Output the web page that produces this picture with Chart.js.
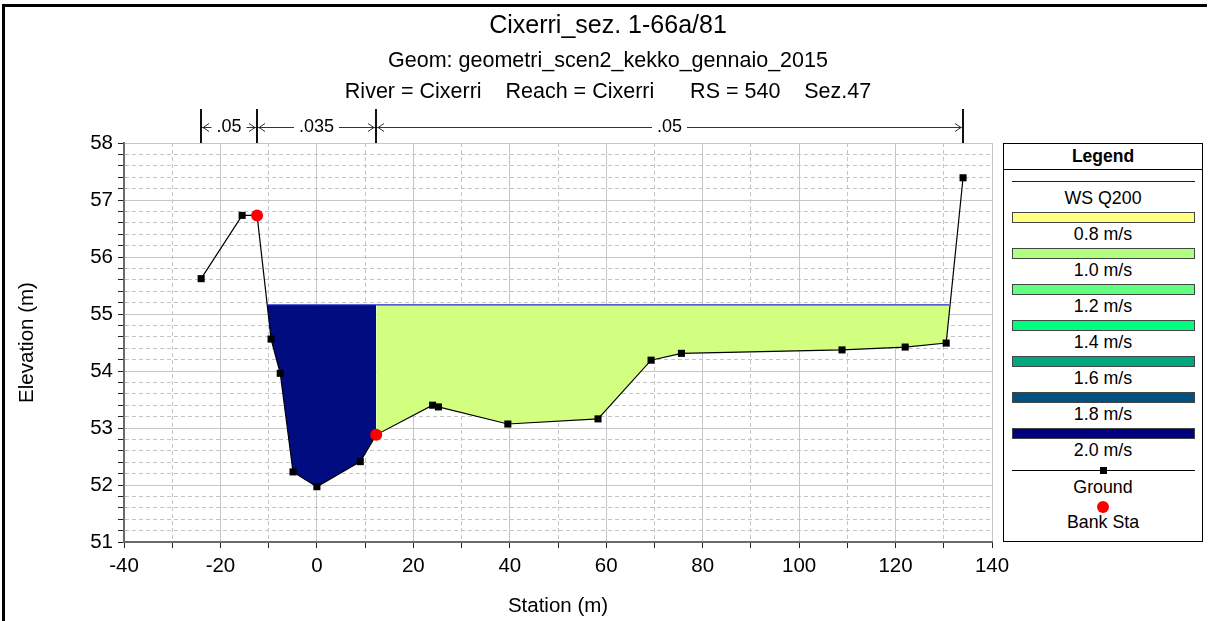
<!DOCTYPE html>
<html lang="it">
<head>
<meta charset="UTF-8">
<title>Cixerri_sez. 1-66a/81</title>
<style>
    body {
        margin: 0;
        background: #fff;
        font-family: "Liberation Sans", Arial, sans-serif;
    }
    #wrap {
        position: relative;
        width: 1209px;
        height: 621px;
        overflow: hidden;
    }
    #frame {
        position: absolute;
        left: 2px;
        top: 4px;
        width: 1205px;
        height: 700px;
        box-sizing: border-box;
        border-left: 3px solid #000;
        border-top: 3px solid #000;
        pointer-events: none;
    }
    #legend {
        position: absolute;
        left: 1003px;
        top: 143px;
        width: 200px;
        height: 399px;
        box-sizing: border-box;
        border: 1px solid #000;
        background: #fff;
    }
    #legend .txt {
        position: absolute;
        left: 0;
        width: 100%;
        text-align: center;
        font-size: 17.8px;
        line-height: 20px;
        color: #000;
    }
    #legend .head {
        font-weight: bold;
        font-size: 17.5px;
    }
    #legend .sep {
        position: absolute;
        left: 0;
        width: 100%;
        top: 25px;
        border-top: 1px solid #000;
    }
    #legend .sw {
        position: absolute;
        left: 8px;
        width: 183px;
        height: 11px;
        box-sizing: border-box;
        border: 1px solid #444;
    }
    #legend .ln {
        position: absolute;
        left: 8px;
        width: 183px;
        height: 0;
    }
    #legend .mk {
        position: absolute;
    }
</style>
</head>
<body>
<div id="wrap">
    <canvas id="chart" width="1209" height="621"></canvas>
    <div id="frame"></div>
    <div id="legend"></div>
</div>

<script src="https://cdn.jsdelivr.net/npm/chart.js@4"></script>
<script>
    // terreno (station, elevation)
    const groundSta  = [-24.0, -15.5, -12.4, -9.5, -7.6, -4.95, 0.0, 9.0, 12.3, 24.0, 25.2, 39.6, 58.3, 69.3, 75.6, 108.9, 122.0, 130.5, 134.0];
    const groundElev = [55.62, 56.73, 56.73, 54.56, 53.96, 52.23, 51.97, 52.41, 52.88, 53.40, 53.37, 53.07, 53.16, 54.19, 54.31, 54.37, 54.42, 54.49, 57.39];

    // sponde
    const bankSta  = [-12.4, 12.3];
    const bankElev = [56.73, 52.88];

    // pelo libero WS Q200
    const wsElev = 55.16;
    const wsSta  = [-10.1, 131.1];

    // coefficienti di Manning
    const nBreaks = [-24.0, -12.4, 12.3, 134.0];
    const nValues = ['.05', '.035', '.05'];

    // colori velocita' delle sottoaree (a sinistra / a destra della sponda destra)
    const subColors = ['#000c80', '#d2ff80'];

    // legenda
    const legendVel    = ['0.8 m/s', '1.0 m/s', '1.2 m/s', '1.4 m/s', '1.6 m/s', '1.8 m/s', '2.0 m/s'];
    const legendColors = ['#ffff80', '#b0ff80', '#60ff80', '#00ff80', '#00a880', '#005080', '#000080'];

    const FONT = '"Liberation Sans", Arial, sans-serif';
    const WS_COLOR = '#1c2bd0';

    const ground = groundSta.map((s, i) => ({ x: s, y: groundElev[i] }));
    const banks = bankSta.map((s, i) => ({ x: s, y: bankElev[i] }));
    const leftPart = ground.filter(p => p.x <= bankSta[1]);
    const rightPart = ground.filter(p => p.x >= bankSta[1]);

    const isInt = v => Math.abs(v - Math.round(v)) < 1e-6;

    // annotazione n di Manning sopra il grafico
    const manningPlugin = {
        id: 'manning',
        afterDraw(chart) {
            const { ctx, chartArea } = chart;
            const xs = chart.scales.x;
            const yLine = 127.5, yTop = 109;
            ctx.save();
            ctx.strokeStyle = '#111';
            ctx.lineWidth = 2;
            nBreaks.forEach(s => {
                const px = Math.round(xs.getPixelForValue(s));
                ctx.beginPath();
                ctx.moveTo(px, yTop);
                ctx.lineTo(px, chartArea.top);
                ctx.stroke();
            });
            ctx.lineWidth = 1;
            ctx.strokeStyle = '#333';
            ctx.font = '18px ' + FONT;
            ctx.textAlign = 'center';
            ctx.textBaseline = 'middle';
            ctx.fillStyle = '#000';
            nValues.forEach((v, i) => {
                const a = Math.round(xs.getPixelForValue(nBreaks[i]));
                const b = Math.round(xs.getPixelForValue(nBreaks[i + 1]));
                const mid = (a + b) / 2;
                const w = ctx.measureText(v).width;
                ctx.fillText(v, mid, yLine);
                ctx.beginPath();
                ctx.moveTo(a + 1, yLine);
                ctx.lineTo(mid - w / 2 - 5, yLine);
                ctx.moveTo(mid + w / 2 + 5, yLine);
                ctx.lineTo(b - 1, yLine);
                ctx.moveTo(a + 8, yLine - 4);
                ctx.lineTo(a + 2, yLine);
                ctx.lineTo(a + 8, yLine + 4);
                ctx.moveTo(b - 8, yLine - 4);
                ctx.lineTo(b - 2, yLine);
                ctx.lineTo(b - 8, yLine + 4);
                ctx.stroke();
            });
            ctx.restore();
        }
    };

    const fillDataset = (data, color) => ({
        data: data,
        borderColor: 'transparent',
        borderWidth: 0,
        pointRadius: 0,
        fill: { target: { value: wsElev }, above: 'rgba(0,0,0,0)', below: color },
        order: 4
    });

    new Chart(document.getElementById('chart'), {
        type: 'line',
        data: {
            datasets: [
                {
                    label: 'Bank Sta',
                    data: banks,
                    showLine: false,
                    pointStyle: 'circle',
                    pointRadius: 6,
                    backgroundColor: '#ff0000',
                    borderColor: '#ff0000',
                    borderWidth: 0,
                    order: 0
                },
                {
                    label: 'Ground',
                    data: ground,
                    borderColor: '#000',
                    borderWidth: 1.2,
                    pointStyle: 'rect',
                    pointRadius: 5,
                    pointBackgroundColor: '#000',
                    pointBorderColor: '#000',
                    pointBorderWidth: 0,
                    fill: false,
                    order: 1
                },
                {
                    label: 'WS Q200',
                    data: wsSta.map(s => ({ x: s, y: wsElev })),
                    borderColor: WS_COLOR,
                    borderWidth: 1.4,
                    pointRadius: 0,
                    fill: false,
                    order: 2
                },
                fillDataset(leftPart, subColors[0]),
                fillDataset(rightPart, subColors[1])
            ]
        },
        options: {
            responsive: false,
            animation: false,
            layout: { padding: { left: 7, right: 0, top: 0, bottom: 0 } },
            plugins: {
                legend: { display: false },
                tooltip: { enabled: false },
                title: {
                    display: true,
                    text: 'Cixerri_sez. 1-66a/81',
                    color: '#000',
                    font: { family: FONT, size: 25, weight: 'normal', lineHeight: 1.2 },
                    padding: { top: 11, bottom: 0 }
                },
                subtitle: {
                    display: true,
                    text: ['Geom: geometri_scen2_kekko_gennaio_2015',
                           'River = Cixerri    Reach = Cixerri      RS = 540    Sez.47'],
                    color: '#000',
                    font: { family: FONT, size: 21.5, weight: 'normal', lineHeight: 31 / 21.5 },
                    padding: { top: 4.5, bottom: 35.5 }
                }
            },
            scales: {
                x: {
                    type: 'linear',
                    min: -40,
                    max: 140,
                    afterFit: s => { s.height = 79; },
                    ticks: {
                        stepSize: 10,
                        autoSkip: false,
                        maxRotation: 0,
                        padding: 6,
                        color: '#000',
                        font: { family: FONT, size: 20.5 },
                        callback: v => (isInt(v / 20) ? v : '')
                    },
                    grid: {
                        color: c => (c.tick && isInt(c.tick.value / 20)) ? '#c6c6c6' : '#c4c4c4',
                        tickColor: '#222',
                        tickLength: 6,
                        lineWidth: 1
                    },
                    border: {
                        display: true,
                        color: '#6a6a6a',
                        width: 2,
                        dash: c => (c.tick && !isInt(c.tick.value / 20)) ? [4, 3] : []
                    },
                    title: {
                        display: true,
                        text: 'Station (m)',
                        color: '#000',
                        font: { family: FONT, size: 20.5 },
                        padding: { top: 0, bottom: 2 }
                    }
                },
                y: {
                    type: 'linear',
                    min: 51,
                    max: 58,
                    afterFit: s => { s.width = 117; },
                    ticks: {
                        stepSize: 0.2,
                        maxTicksLimit: 100,
                        autoSkip: false,
                        padding: 5,
                        color: '#000',
                        font: { family: FONT, size: 20.5 },
                        callback: v => (isInt(v) ? Math.round(v) : '')
                    },
                    grid: {
                        color: c => (c.tick && isInt(c.tick.value)) ? '#c6c6c6' : '#c4c4c4',
                        tickColor: '#222',
                        tickLength: 6,
                        lineWidth: 1
                    },
                    border: {
                        display: true,
                        color: '#6a6a6a',
                        width: 2,
                        dash: c => (c.tick && !isInt(c.tick.value)) ? [4, 3] : []
                    },
                    title: {
                        display: true,
                        text: 'Elevation (m)',
                        color: '#000',
                        font: { family: FONT, size: 20.5 },
                        padding: { top: 8, bottom: 0 }
                    }
                },
                // asse vuoto a destra: lascia spazio alla legenda
                legendSpace: {
                    type: 'linear',
                    position: 'right',
                    afterFit: s => { s.width = 217; },
                    ticks: { display: false },
                    grid: { display: false, drawTicks: false },
                    border: { display: false },
                    title: { display: false }
                }
            }
        },
        plugins: [manningPlugin]
    });

    // legenda HTML
    const lg = document.getElementById('legend');
    function addText(text, cy, cls) {
        const d = document.createElement('div');
        d.className = 'txt' + (cls ? ' ' + cls : '');
        d.style.top = (cy - 10) + 'px';
        d.textContent = text;
        lg.appendChild(d);
    }
    function addLine(cy, color, width) {
        const d = document.createElement('div');
        d.className = 'ln';
        d.style.top = (cy - width / 2) + 'px';
        d.style.borderTop = width + 'px solid ' + color;
        lg.appendChild(d);
    }
    addText('Legend', 12, 'head');
    const sep = document.createElement('div');
    sep.className = 'sep';
    lg.appendChild(sep);

    addLine(37, '#0000ff', 1);
    addText('WS Q200', 54);
    legendVel.forEach((lab, i) => {
        const sw = document.createElement('div');
        sw.className = 'sw';
        sw.style.top = (68 + 36 * i) + 'px';
        sw.style.background = legendColors[i];
        lg.appendChild(sw);
        addText(lab, 90 + 36 * i);
    });
    addLine(326.5, '#000', 1);
    const sq = document.createElement('div');
    sq.className = 'mk';
    sq.style.cssText = 'left:96px;top:323px;width:7px;height:7px;background:#000;';
    lg.appendChild(sq);
    addText('Ground', 343);
    const dot = document.createElement('div');
    dot.className = 'mk';
    dot.style.cssText = 'left:93px;top:357px;width:12px;height:12px;border-radius:50%;background:#ff0000;';
    lg.appendChild(dot);
    addText('Bank Sta', 378);
</script>
</body>
</html>
